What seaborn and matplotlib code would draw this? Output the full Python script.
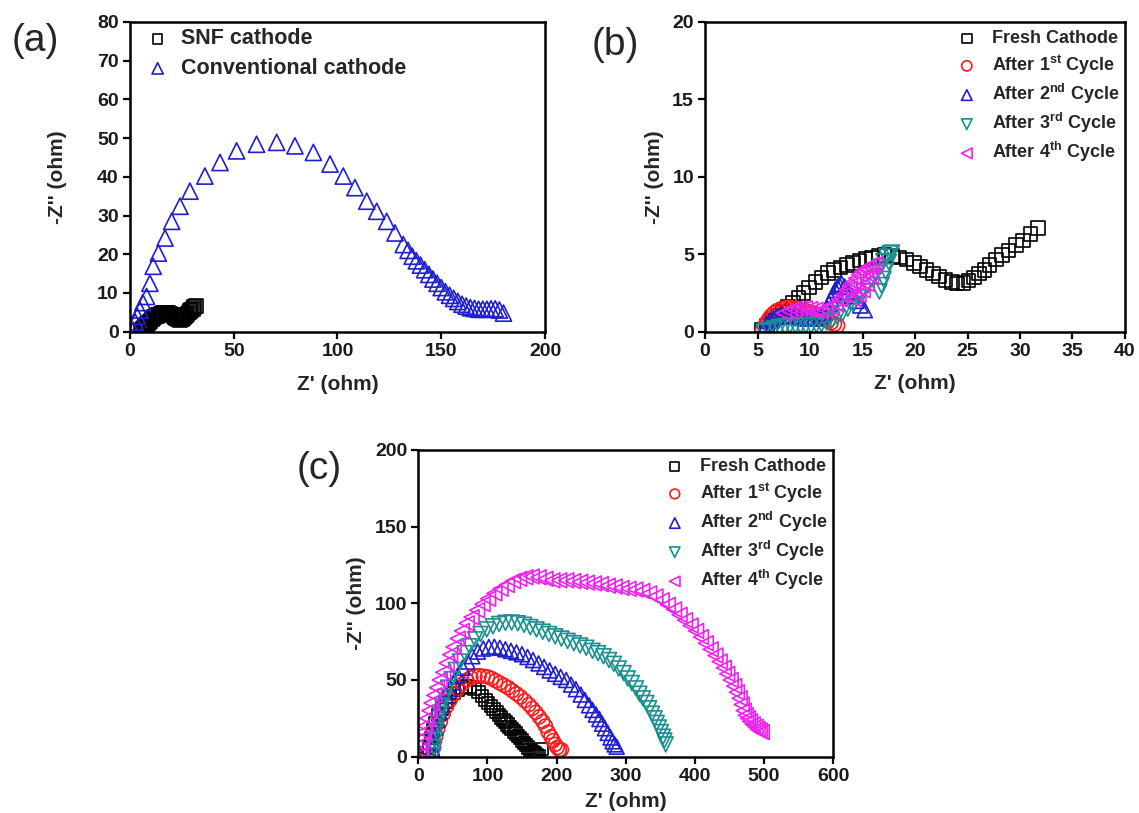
import numpy as np
import pandas as pd
import matplotlib
matplotlib.use("Agg")
import matplotlib.pyplot as plt
import seaborn as sns

# ---------------- data ----------------
# Panel (a)
snf_x = [5.4, 5.9, 6.4, 6.9, 7.4, 7.9, 8.4, 8.9, 9.4, 9.9, 10.5, 11.1, 11.7, 12.3, 12.9, 13.5,
         14.1, 14.7, 15.3, 15.9, 16.5, 17.1, 17.8, 18.5, 19.2, 19.9, 20.5, 21.1, 21.7, 22.3,
         22.9, 23.5, 24.0, 24.6, 25.1, 25.6, 26.1, 26.6, 27.1, 27.7, 28.3, 28.9, 29.6, 30.3,
         31.0, 31.7]
snf_y = [0.1, 0.4, 0.7, 1.0, 1.3, 1.6, 1.9, 2.2, 2.5, 2.85, 3.2, 3.5, 3.8, 4.0, 4.15, 4.3,
         4.45, 4.6, 4.7, 4.8, 4.9, 4.95, 4.9, 4.8, 4.65, 4.45, 4.2, 4.0, 3.75, 3.55,
         3.35, 3.2, 3.1, 3.15, 3.3, 3.5, 3.75, 4.0, 4.3, 4.65, 4.95, 5.25, 5.6, 5.9,
         6.3, 6.7]

conv_x = [1.5, 2.5, 3.5, 4.8, 6.2, 8.0, 9.6, 11.2, 13.7, 16.9, 20.1, 24.1, 28.9, 36.1, 43.4,
          51.4, 61.0, 70.7, 79.5, 88.4, 96.4, 102.8, 108.4, 114.1, 118.9, 123.7, 127.7, 131.7,
          134, 136, 138, 140, 142, 144, 146, 148, 150, 152, 154, 156, 158, 160, 162, 164, 166,
          168, 170, 172, 174, 176, 178, 180]
conv_y = [0.4, 2.5, 4.0, 5.6, 7.5, 9.1, 12.5, 16.9, 20.3, 24.2, 28.5, 32.4, 36.3, 40.2, 43.7,
          46.7, 48.4, 48.9, 48.0, 46.3, 43.3, 40.2, 37.2, 33.7, 31.1, 28.5, 25.5, 22.5,
          21.0, 19.5, 18.3, 17.2, 16.0, 14.8, 13.6, 12.5, 11.4, 10.3, 9.4, 8.6, 7.8, 7.1, 6.6,
          6.2, 6.0, 5.8, 5.8, 5.8, 5.9, 5.9, 5.6, 4.8]

# Panel (b): fresh cathode is the same curve as SNF cathode
b_fresh_x = snf_x
b_fresh_y = snf_y
b_c1_x = [5.5, 5.7, 5.9, 6.1, 6.3, 6.6, 6.9, 7.2, 7.5, 7.8, 8.1, 8.4, 8.7, 9.0, 9.3, 9.6,
          9.9, 10.2, 10.5, 10.8, 11.1, 11.4, 11.7, 12.0, 12.3, 12.6]
b_c1_y = [0.1, 0.35, 0.6, 0.8, 1.0, 1.2, 1.35, 1.45, 1.5, 1.55, 1.55, 1.5, 1.45, 1.4, 1.35,
          1.3, 1.25, 1.2, 1.1, 1.0, 0.9, 0.8, 0.7, 0.6, 0.5, 0.4]
b_c2_x = [5.5, 5.7, 5.9, 6.2, 6.5, 6.8, 7.1, 7.4, 7.7, 8.0, 8.3, 8.6, 8.9, 9.2, 9.5, 9.8,
          10.1, 10.4, 10.7, 11.0, 11.3, 11.6, 11.8, 12.0, 12.2, 12.4, 12.6, 12.8, 13.0, 13.3,
          13.6, 14.0, 14.4, 14.8, 15.2]
b_c2_y = [0.1, 0.3, 0.5, 0.7, 0.85, 0.95, 1.0, 1.05, 1.05, 1.05, 1.0, 1.0, 0.95, 0.9, 0.9,
          0.85, 0.85, 0.9, 0.9, 1.0, 1.2, 1.5, 1.8, 2.1, 2.4, 2.7, 2.9, 3.0, 3.1, 2.9,
          2.6, 2.3, 2.0, 1.7, 1.4]
b_c3_x = [5.6, 6.1, 6.6, 7.1, 7.6, 8.1, 8.6, 9.1, 9.6, 10.1, 10.6, 11.1, 11.6, 12.1, 12.6,
          13.1, 13.6, 14.1, 14.6, 15.1, 15.5, 15.9, 16.3, 16.7, 17.0, 17.3, 17.6, 17.8, 17.5,
          17.2, 17.0, 16.8, 16.6]
b_c3_y = [0.0, 0.1, 0.2, 0.3, 0.35, 0.4, 0.4, 0.4, 0.4, 0.4, 0.45, 0.5, 0.6, 0.75, 0.95,
          1.2, 1.5, 1.8, 2.2, 2.6, 3.0, 3.4, 3.8, 4.2, 4.55, 4.85, 5.05, 5.1, 4.5,
          3.9, 3.4, 3.0, 2.6]
b_c4_x = [7.5, 8.0, 8.5, 9.0, 9.5, 10.0, 10.5, 11.0, 11.5, 12.0, 12.4, 12.8, 13.2, 13.5, 13.8,
          14.1, 14.4, 14.7, 15.0, 15.3, 15.6, 15.9, 16.2, 15.8, 15.4, 15.0, 14.6, 14.2]
b_c4_y = [1.2, 1.35, 1.45, 1.5, 1.5, 1.45, 1.4, 1.35, 1.4, 1.55, 1.8, 2.1, 2.4, 2.7, 2.95,
          3.2, 3.45, 3.7, 3.9, 4.05, 4.2, 4.3, 4.35, 3.6, 3.1, 2.7, 2.4, 2.1]

# Panel (c)
c_fresh_x = [13, 15, 18, 21, 25, 29, 34, 39, 45, 51, 57, 63, 69, 75, 81, 87, 92, 97, 101, 105,
             109, 113, 117, 120, 123, 126, 129, 132, 135, 138, 141, 144, 147, 150, 153, 156,
             159, 162, 165, 168, 171, 174, 178]
c_fresh_y = [1, 6, 12, 17, 22, 27, 31.5, 35.5, 39, 41.5, 43.5, 45, 45.8, 45.5, 44, 42, 39.5,
             37, 35, 33, 31, 29, 27, 25.5, 24, 22.5, 21, 19.5, 18, 16.5, 15, 13.5, 12, 10.5,
             9, 7.5, 6, 4.5, 3, 2, 1, 0.5, 5]
c_c1_x = [20, 22, 25, 28, 32, 36, 41, 46, 52, 58, 64, 70, 76, 82, 88, 94, 100, 106, 112, 118,
          124, 130, 136, 142, 148, 154, 160, 165, 170, 175, 180, 184, 188, 192, 195, 198, 201,
          204, 207]
c_c1_y = [1, 7, 13, 18, 23, 28, 33, 37, 41, 44.5, 47.5, 50, 51.5, 52.5, 52.8, 52.5, 52, 51,
          49.5, 48, 46.5, 45, 43, 41, 39, 36.5, 34, 31.5, 29, 26, 23, 20, 16, 13, 10.5, 8,
          6, 4.5, 4.5]
c_c2_x = [19, 20, 21, 23, 25, 28, 31, 35, 40, 45, 51, 57, 64, 71, 78, 86, 94, 102, 110, 118,
          126, 134, 142, 150, 158, 166, 174, 182, 190, 198, 206, 214, 221, 228, 235, 241, 247,
          252, 257, 262, 266, 270, 274, 278, 281, 284, 287]
c_c2_y = [1, 5, 9, 14, 19, 24, 29, 34, 39.5, 44, 48.5, 53, 58, 62, 65.5, 68.5, 70.5, 71.5,
          71.7, 71, 70, 69, 68, 66.8, 65, 63, 60.8, 58.5, 56.2, 54, 52, 50, 47, 44, 40.5, 37,
          33.5, 30.5, 27.5, 24.5, 21.5, 18.5, 15.5, 12.5, 10, 8, 6.5]
c_c3_x = [22, 23, 24, 26, 28, 31, 34, 38, 43, 48, 54, 60, 67, 74, 82, 90, 99, 108, 117, 126,
          135, 144, 153, 162, 171, 180, 189, 198, 207, 216, 225, 234, 243, 252, 260, 268, 276,
          283, 290, 297, 303, 309, 315, 320, 325, 330, 334, 338, 342, 345, 348, 351, 354, 356,
          358]
c_c3_y = [1, 6, 11, 17, 22, 28, 33, 39, 45, 50.5, 56.5, 62, 67.5, 72, 76.5, 80, 83, 85, 86.5,
          87.3, 87.5, 87, 86, 84.5, 83, 81.5, 80, 78.5, 77, 75.5, 74, 72.5, 71, 69, 67.5, 65.5,
          63, 60.5, 57.5, 54.5, 51, 48, 44.5, 41, 38, 35, 31.5, 28, 25, 22, 19, 16, 13, 10.5, 8]
c_c4_x = [2, 3, 4, 6, 8, 10, 13, 16, 19, 23, 27, 31, 36, 41, 46, 51, 57, 63, 70, 77, 85, 93,
          101, 110, 119, 128, 137, 146, 155, 164, 174, 184, 194, 204, 214, 224, 234, 244, 254,
          264, 274, 284, 294, 304, 314, 324, 334, 343, 352, 361, 370, 378, 386, 394, 402, 409,
          416, 423, 430, 436, 442, 447, 452, 457, 461, 465, 468, 471, 474, 477, 480, 484, 488,
          491, 494, 497]
c_c4_y = [1, 4, 8, 12, 16, 20, 25, 30, 35, 40, 45, 50, 55, 61, 66.5, 71.5, 77, 82, 87, 91,
          95.5, 99.5, 103, 106.5, 109.5, 112, 114.5, 116, 117, 117.5, 117, 116, 115, 115, 115,
          114.5, 114, 113.5, 113, 112.5, 111.5, 111, 110, 109.5, 109, 108, 106.5, 104.5, 102,
          99, 96, 92.5, 89, 85.5, 82, 78, 74, 70, 66, 62, 58, 54, 50, 46, 42, 38, 34, 30, 27,
          25, 23, 21, 19.5, 18, 17, 16]

labels_b = ["Fresh Cathode", r"After 1$^{\mathbf{st}}$ Cycle", r"After 2$^{\mathbf{nd}}$ Cycle",
            r"After 3$^{\mathbf{rd}}$ Cycle", r"After 4$^{\mathbf{th}}$ Cycle"]
labels_a = ["SNF cathode", "Conventional cathode"]

# ---------------- style ----------------
sns.set_theme(style="ticks")
plt.rcParams["font.family"] = ["Liberation Sans", "DejaVu Sans"]
plt.rcParams["mathtext.fontset"] = "custom"
plt.rcParams["mathtext.rm"] = "Liberation Sans:bold"
plt.rcParams["mathtext.bf"] = "Liberation Sans:bold"
plt.rcParams["mathtext.it"] = "Liberation Sans:bold"

BLACK = "#000000"
RED = "#ff1a1a"
BLUE = "#1f1fd0"
TEAL = "#1a9090"
MAG = "#ee22ee"

fig = plt.figure(figsize=(11.39, 8.13), dpi=100)
ax_a = fig.add_axes([0.1141, 0.592, 0.3644, 0.381])
ax_b = fig.add_axes([0.619, 0.592, 0.3687, 0.381])
ax_c = fig.add_axes([0.3673, 0.0693, 0.364, 0.3772])


def draw(ax, x, y, marker, color, s, label):
    df = pd.DataFrame({"x": x, "y": y})
    sns.scatterplot(data=df, x="x", y="y", ax=ax, marker=marker, s=s, color=color,
                    facecolor="none", edgecolor=color, linewidth=1.2, label=label,
                    legend=False)


# Panel (a)
draw(ax_a, snf_x, snf_y, "s", BLACK, 100, labels_a[0])
draw(ax_a, conv_x, conv_y, "^", BLUE, 135, labels_a[1])
ax_a.set_xlim(0, 200)
ax_a.set_ylim(0, 80)
ax_a.set_xticks(range(0, 201, 50))
ax_a.set_yticks(range(0, 81, 10))

# Panel (b)
draw(ax_b, b_fresh_x, b_fresh_y, "s", BLACK, 95, labels_b[0])
draw(ax_b, b_c1_x, b_c1_y, "o", RED, 110, labels_b[1])
draw(ax_b, b_c2_x, b_c2_y, "^", BLUE, 120, labels_b[2])
draw(ax_b, b_c3_x, b_c3_y, "v", TEAL, 120, labels_b[3])
draw(ax_b, b_c4_x, b_c4_y, "<", MAG, 120, labels_b[4])
ax_b.set_xlim(0, 40)
ax_b.set_ylim(0, 20)
ax_b.set_xticks(range(0, 41, 5))
ax_b.set_yticks(range(0, 21, 5))

# Panel (c)
draw(ax_c, c_fresh_x, c_fresh_y, "s", BLACK, 80, labels_b[0])
draw(ax_c, c_c1_x, c_c1_y, "o", RED, 100, labels_b[1])
draw(ax_c, c_c2_x, c_c2_y, "^", BLUE, 115, labels_b[2])
draw(ax_c, c_c3_x, c_c3_y, "v", TEAL, 115, labels_b[3])
draw(ax_c, c_c4_x, c_c4_y, "<", MAG, 115, labels_b[4])
ax_c.set_xlim(0, 600)
ax_c.set_ylim(0, 200)
ax_c.set_xticks(range(0, 601, 100))
ax_c.set_yticks(range(0, 201, 50))

for ax in (ax_a, ax_b, ax_c):
    for sp in ax.spines.values():
        sp.set_linewidth(1.8)
        sp.set_color("black")
    ax.tick_params(axis="both", which="major", direction="out", length=5, width=1.6,
                   labelsize=14, pad=3, colors="black", top=False, right=False)
    for lab in ax.get_xticklabels() + ax.get_yticklabels():
        lab.set_fontweight("bold")
        lab.set_color("#1a1a1a")
    ax.set_facecolor("white")

ax_a.set_xlabel("Z' (ohm)", fontsize=15, fontweight="bold", labelpad=11)
ax_a.set_ylabel("-Z'' (ohm)", fontsize=15, fontweight="bold", labelpad=22)
ax_b.set_xlabel("Z' (ohm)", fontsize=15, fontweight="bold", labelpad=10)
ax_b.set_ylabel("-Z'' (ohm)", fontsize=15, fontweight="bold", labelpad=6)
ax_c.set_xlabel("Z' (ohm)", fontsize=15, fontweight="bold", labelpad=5)
ax_c.set_ylabel("-Z'' (ohm)", fontsize=15, fontweight="bold", labelpad=6)

ax_a.legend(loc="upper left", bbox_to_anchor=(0.02, 1.0), frameon=False,
            prop={"size": 15.5, "weight": "bold"},
            handletextpad=0.5, labelspacing=0.4, borderaxespad=0.1, borderpad=0.2,
            markerscale=0.7, handlelength=1.2)
for ax in (ax_b, ax_c):
    ax.legend(loc="upper right", bbox_to_anchor=(1.0, 0.99), frameon=False,
              prop={"size": 13, "weight": "bold"},
              handletextpad=0.8, labelspacing=0.28, borderaxespad=0.1, borderpad=0.2,
              markerscale=0.7, handlelength=1.2)

fig.text(0.010, 0.950, "(a)", fontsize=28, ha="left", va="center")
fig.text(0.519, 0.945, "(b)", fontsize=28, ha="left", va="center")
fig.text(0.260, 0.423, "(c)", fontsize=28, ha="left", va="center")

fig.savefig("out.png", dpi=100, facecolor="white")
